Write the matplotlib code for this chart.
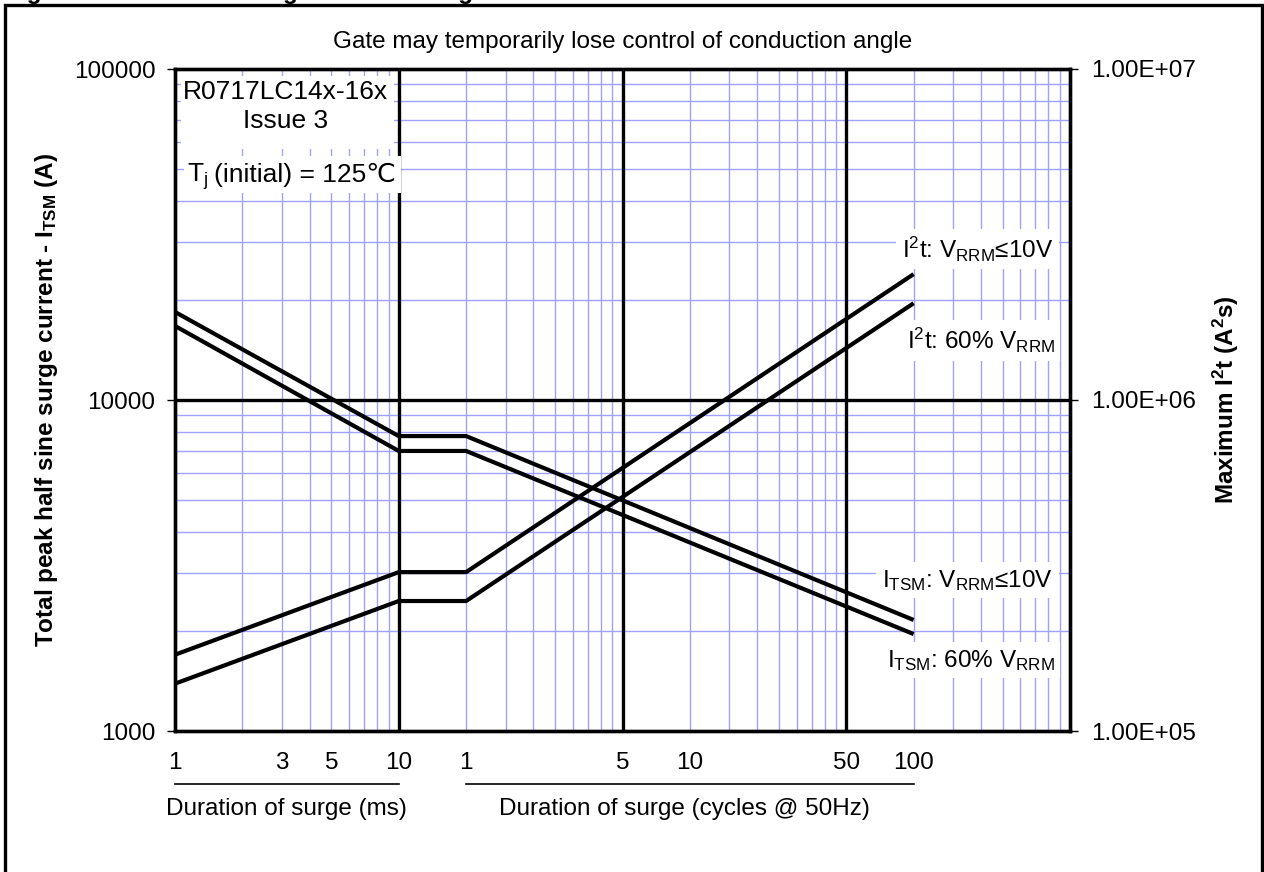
import numpy as np
import matplotlib.pyplot as plt
from matplotlib.patches import Rectangle
from matplotlib.ticker import NullLocator
import matplotlib.transforms as mtransforms

plt.rcParams['font.family'] = ['Liberation Sans', 'DejaVu Sans']
plt.rcParams['mathtext.fontset'] = 'custom'
plt.rcParams['mathtext.rm'] = 'Liberation Sans'
plt.rcParams['mathtext.it'] = 'Liberation Sans:italic'
plt.rcParams['mathtext.bf'] = 'Liberation Sans:bold'

# surge duration in ms (1 cycle @ 50Hz = 20 ms)
t_ms = [1, 10, 20, 2000]
itsm_10v = [18450, 7780, 7780, 2165]
itsm_60 = [16740, 7015, 7015, 1963]
i2t_10v = [1.70e5, 3.02e5, 3.02e5, 2.40e6]
i2t_60 = [1.39e5, 2.47e5, 2.47e5, 1.96e6]

xtick_pos = [1, 3, 5, 10, 20, 100, 200, 1000, 2000]
xtick_lab = ['1', '3', '5', '10', '1', '5', '10', '50', '100']
yl_ticks = [1000, 10000, 100000]
yr_ticks = [1e5, 1e6, 1e7]
yr_lab = ['1.00E+05', '1.00E+06', '1.00E+07']

FS = 17.5
FS_BOX = 19
blue = '#a0a0ff'

fig = plt.figure(figsize=(12.64, 8.72), dpi=100)
W, H = 1264, 872
ax = fig.add_axes([175/W, 1-731/H, 895/W, 662/H])

ax.set_xscale('log')
ax.set_yscale('log')
ax.set_xlim(1, 10000)
ax.set_ylim(1000, 100000)

# grid
for d in [1, 10, 100, 1000]:
    for k in range(2, 10):
        ax.axvline(k*d, color=blue, lw=1, zorder=1)
for d in [1000, 10000]:
    for k in range(2, 10):
        ax.axhline(k*d, color=blue, lw=1, zorder=1)
for v in [10, 100, 1000]:
    ax.axvline(v, color='k', lw=2.4, zorder=1.5)
ax.axhline(10000, color='k', lw=2.4, zorder=1.5)

ax.set_xticks(xtick_pos, xtick_lab)
ax.xaxis.set_minor_locator(NullLocator())
ax.set_yticks(yl_ticks, [str(v) for v in yl_ticks])
ax.yaxis.set_minor_locator(NullLocator())
ax.tick_params(axis='x', length=0, pad=15, labelsize=FS)
ax.tick_params(axis='y', length=6, width=1, pad=8, labelsize=FS)

ax.plot(t_ms, itsm_10v, color='k', lw=3, zorder=3, solid_capstyle='butt')
ax.plot(t_ms, itsm_60, color='k', lw=3, zorder=3, solid_capstyle='butt')

ax2 = ax.twinx()
ax2.set_yscale('log')
ax2.set_ylim(1e5, 1e7)
ax2.set_yticks(yr_ticks, yr_lab)
ax2.yaxis.set_minor_locator(NullLocator())
ax2.tick_params(axis='y', length=6, width=1, pad=9, labelsize=FS)
ax2.plot(t_ms, i2t_10v, color='k', lw=3, solid_capstyle='butt')
ax2.plot(t_ms, i2t_60, color='k', lw=3, solid_capstyle='butt')

for a in (ax, ax2):
    for s in a.spines.values():
        s.set_linewidth(2.4)

# white boxes for top-left notes
ax.add_patch(Rectangle((0.007, 0.879), 0.238, 0.11, transform=ax.transAxes,
                       facecolor='white', edgecolor='none', zorder=2))
ax.add_patch(Rectangle((0.010, 0.812), 0.243, 0.057, transform=ax.transAxes,
                       facecolor='white', edgecolor='none', zorder=2))
ax.text(0.123, 0.966, 'R0717LC14x-16x', transform=ax.transAxes, ha='center',
        va='center', fontsize=FS_BOX, zorder=4)
ax.text(0.123, 0.922, 'Issue 3', transform=ax.transAxes, ha='center',
        va='center', fontsize=FS_BOX, zorder=4)
ax.text(0.037, 0.829, r'T$_\mathrm{j}$', transform=ax.transAxes,
        ha='right', va='baseline', fontsize=FS_BOX, zorder=4)
ax.text(0.0435, 0.829, '(initial) = 125℃', transform=ax.transAxes,
        ha='left', va='baseline', fontsize=FS_BOX, zorder=4)

box = dict(facecolor='white', edgecolor='none', pad=4)
ax2.text(0.981, 0.728, r'I$^\mathrm{2}$t: V$_\mathrm{RRM}$≤10V', transform=ax.transAxes,
         ha='right', va='center', fontsize=FS, bbox=box)
ax2.text(0.983, 0.590, r'I$^\mathrm{2}$t: 60% V$_\mathrm{RRM}$', transform=ax.transAxes,
         ha='right', va='center', fontsize=FS, bbox=box)
ax2.text(0.981, 0.228, r'I$_\mathrm{TSM}$: V$_\mathrm{RRM}$≤10V', transform=ax.transAxes,
         ha='right', va='center', fontsize=FS, bbox=box)
ax2.text(0.983, 0.107, r'I$_\mathrm{TSM}$: 60% V$_\mathrm{RRM}$', transform=ax.transAxes,
         ha='right', va='center', fontsize=FS, bbox=box)

ax.text(0.5, 1.041, 'Gate may temporarily lose control of conduction angle',
        transform=ax.transAxes, ha='center', va='center', fontsize=FS)

# duration labels under the axis
tr = mtransforms.blended_transform_factory(ax.transData, ax.transAxes)
ax.plot([1, 10], [-0.080, -0.080], color='k', lw=1.2, transform=tr, clip_on=False)
ax.plot([20, 2000], [-0.080, -0.080], color='k', lw=1.2, transform=tr, clip_on=False)
ax.text(np.sqrt(10), -0.118, 'Duration of surge (ms)', transform=tr,
        ha='center', va='center', fontsize=FS)
ax.text(190, -0.118, 'Duration of surge (cycles @ 50Hz)', transform=tr,
        ha='center', va='center', fontsize=FS)

fig.text(47/W, 1-400/H, r'Total peak half sine surge current - I$_\mathbf{TSM}$ (A)',
         rotation=90, ha='center', va='center', fontsize=FS, fontweight='bold')
fig.text(1226/W, 1-400/H, r'Maximum I$^\mathbf{2}$t (A$^\mathbf{2}$s)',
         rotation=90, ha='center', va='center', fontsize=FS, fontweight='bold')

# cut-off figure caption and outer frame
fig.text(5/W, 1+1/H, 'Figure 9 – Maximum surge and I²t Ratings', ha='left',
         va='baseline', fontsize=FS, fontweight='bold')
fig.patches.append(Rectangle((5/W, -0.05), 1257/W, 1.05-5/H, transform=fig.transFigure,
                             fill=False, edgecolor='k', lw=2.4))

fig.savefig('out.png', dpi=100)
